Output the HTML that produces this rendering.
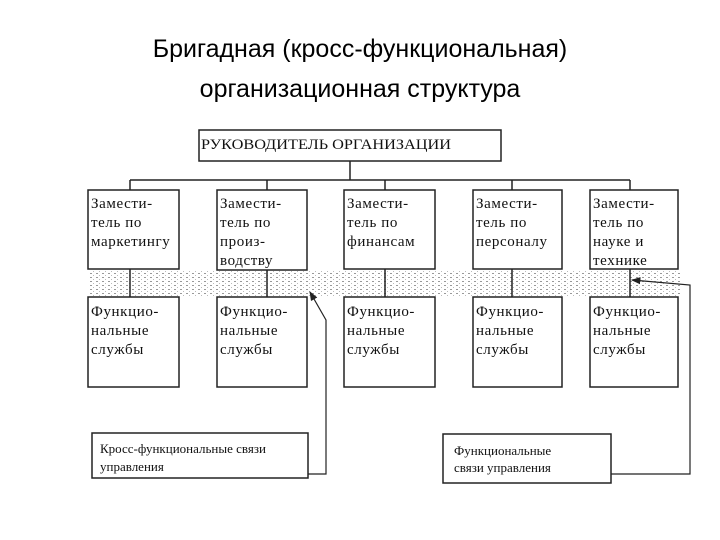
<!DOCTYPE html>
<html><head><meta charset="utf-8"><style>
body{margin:0;width:720px;height:540px;background:#fff;overflow:hidden}
svg{display:block}
.t{font-family:"Liberation Serif",serif;font-size:15px;fill:#111;letter-spacing:0.6px}
</style></head><body>
<svg width="720" height="540" viewBox="0 0 720 540">
<text x="360" y="57" text-anchor="middle" font-family="Liberation Sans, sans-serif" font-size="25" fill="#000">Бригадная (кросс-функциональная)</text>
<text x="360" y="97" text-anchor="middle" font-family="Liberation Sans, sans-serif" font-size="25" fill="#000">организационная структура</text>
<defs>
<pattern id="d" width="6" height="4" patternUnits="userSpaceOnUse"><rect x="0" y="1" width="2" height="1" fill="#999"/><rect x="3" y="3" width="1" height="1" fill="#bbb"/></pattern>
<marker id="a" markerWidth="8" markerHeight="8" refX="7" refY="4" orient="auto"><path d="M0,1 L8,4 L0,7z" fill="#222"/></marker>
</defs>
<rect x="90" y="270" width="590" height="27" fill="url(#d)"/>
<g stroke="#222" stroke-width="1.5" fill="none">
<line x1="350" y1="161" x2="350" y2="180"/>
<line x1="130" y1="180" x2="630" y2="180"/>
<line x1="130" y1="180" x2="130" y2="297"/>
<line x1="267" y1="180" x2="267" y2="297"/>
<line x1="385" y1="180" x2="385" y2="297"/>
<line x1="512" y1="180" x2="512" y2="297"/>
<line x1="630" y1="180" x2="630" y2="297"/>
</g>
<g fill="#fff" stroke="#222" stroke-width="1.5">
<rect x="199" y="130" width="302" height="31"/>
<rect x="88" y="190" width="91" height="79"/>
<rect x="217" y="190" width="90" height="80"/>
<rect x="344" y="190" width="91" height="79"/>
<rect x="473" y="190" width="89" height="79"/>
<rect x="590" y="190" width="88" height="79"/>
<rect x="88" y="297" width="91" height="90"/>
<rect x="217" y="297" width="90" height="90"/>
<rect x="344" y="297" width="91" height="90"/>
<rect x="473" y="297" width="89" height="90"/>
<rect x="590" y="297" width="88" height="90"/>
<rect x="92" y="433" width="216" height="45"/>
<rect x="443" y="434" width="168" height="49"/>
</g>
<g stroke="#222" stroke-width="1.2" fill="none">
<polyline points="308,474 326,474 326,320 310,292" marker-end="url(#a)"/>
<polyline points="611,474 690,474 690,285 632,280" marker-end="url(#a)"/>
</g>
<text font-family="Liberation Serif,serif" font-size="15" fill="#111" x="201" y="149" textLength="250" lengthAdjust="spacingAndGlyphs">РУКОВОДИТЕЛЬ ОРГАНИЗАЦИИ</text>
<g class="t">
<text x="91" y="208">Замести-</text><text x="91" y="227">тель по</text><text x="91" y="246">маркетингу</text>
<text x="220" y="208">Замести-</text><text x="220" y="227">тель по</text><text x="220" y="246">произ-</text><text x="220" y="265">водству</text>
<text x="347" y="208">Замести-</text><text x="347" y="227">тель по</text><text x="347" y="246">финансам</text>
<text x="476" y="208">Замести-</text><text x="476" y="227">тель по</text><text x="476" y="246">персоналу</text>
<text x="593" y="208">Замести-</text><text x="593" y="227">тель по</text><text x="593" y="246">науке и</text><text x="593" y="265">технике</text>
<text x="91" y="316">Функцио-</text><text x="91" y="335">нальные</text><text x="91" y="354">службы</text>
<text x="220" y="316">Функцио-</text><text x="220" y="335">нальные</text><text x="220" y="354">службы</text>
<text x="347" y="316">Функцио-</text><text x="347" y="335">нальные</text><text x="347" y="354">службы</text>
<text x="476" y="316">Функцио-</text><text x="476" y="335">нальные</text><text x="476" y="354">службы</text>
<text x="593" y="316">Функцио-</text><text x="593" y="335">нальные</text><text x="593" y="354">службы</text>
</g>
<g font-family="Liberation Serif,serif" font-size="13" fill="#111">
<text x="100" y="453">Кросс-функциональные связи</text><text x="100" y="471">управления</text>
<text x="454" y="455">Функциональные</text><text x="454" y="472">связи управления</text>
</g>
</svg>
</body></html>
